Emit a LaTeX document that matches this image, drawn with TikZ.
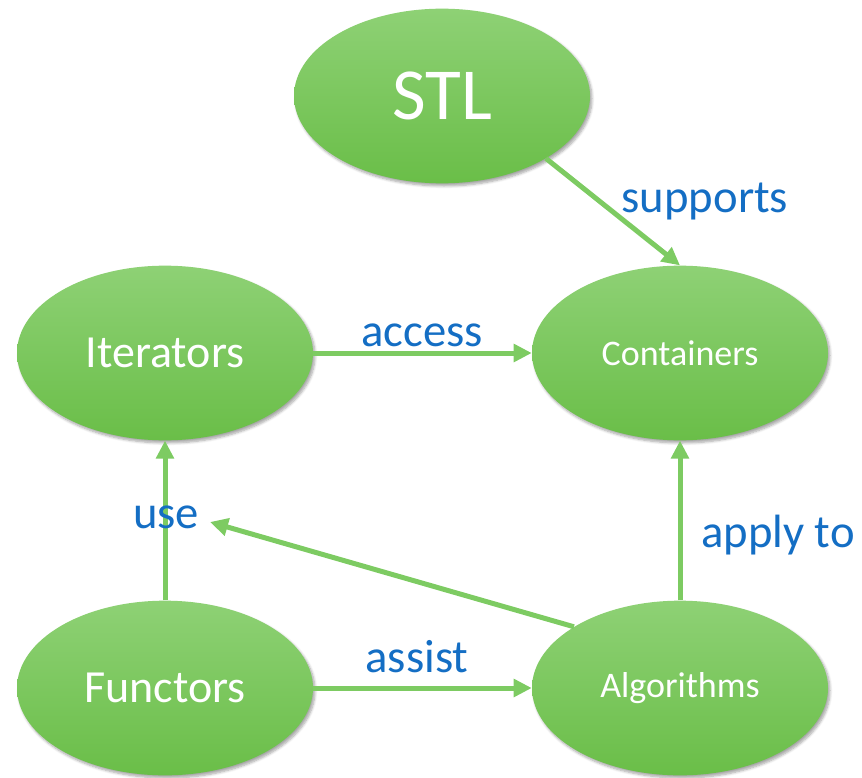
\documentclass[tikz,border=0pt]{standalone}
\usepackage{fontspec}
\setmainfont{Carlito}
\usetikzlibrary{shapes.geometric,arrows.meta,shadows.blur}
\definecolor{blobtop}{RGB}{142,209,117}
\definecolor{blobbot}{RGB}{106,190,72}
\definecolor{linkgreen}{RGB}{125,203,98}
\definecolor{lblblue}{RGB}{20,110,196}
\newcommand{\bigsize}{\fontsize{34.5}{40}\selectfont}
\newcommand{\midsize}{\fontsize{27}{32}\selectfont}

\begin{document}
\begin{tikzpicture}[x=0.75pt,y=-0.75pt,
  blob/.style={ellipse, inner sep=0pt, minimum width=222pt, minimum height=131pt,
    top color=blobtop, bottom color=blobbot, text=white,
    blur shadow={shadow xshift=1.5pt, shadow yshift=-2pt, shadow blur steps=6, shadow opacity=35}},
  link/.style={draw=linkgreen, line width=3.75pt, -{Triangle[length=13.5pt,width=13pt]}},
  lbl/.style={text=lblblue, font=\fontsize{35}{40}\selectfont, anchor=base}]

 \useasboundingbox (0,0) rectangle (862,777);

 % the five blobs
 \node (stl)  [blob, font=\fontsize{55}{60}\selectfont] at (442,96) {STL};
 \node (iter) [blob, font=\bigsize] at (165,353) {Iterators};
 \node (cont) [blob, font=\midsize] at (680,353) {Containers};
 \node (func) [blob, font=\bigsize] at (165,688) {Functors};
 \node (algo) [blob, font=\midsize] at (680,688) {Algorithms};
 \coordinate (usetip) at (210,522);

 % links
 \draw[link] (stl.-31) -- (cont.north);
 \draw[link] (iter.east) -- (cont.west);
 \draw[link] (func.north) -- (iter.south);
 \draw[link] (algo.north) -- (cont.south);
 \draw[link] (func.east) -- (algo.west);
 \draw[link] (algo.150) -- (usetip);

 % labels
 \node (lsup) [lbl] at (705,213) {supports};
 \node (lacc) [lbl] at (422,346) {access};
 \node (luse) [lbl] at (166,528) {use};
 \node (lapp) [lbl] at (778,547) {apply to};
 \node (lass) [lbl] at (417,672) {assist};

\end{tikzpicture}
\end{document}
